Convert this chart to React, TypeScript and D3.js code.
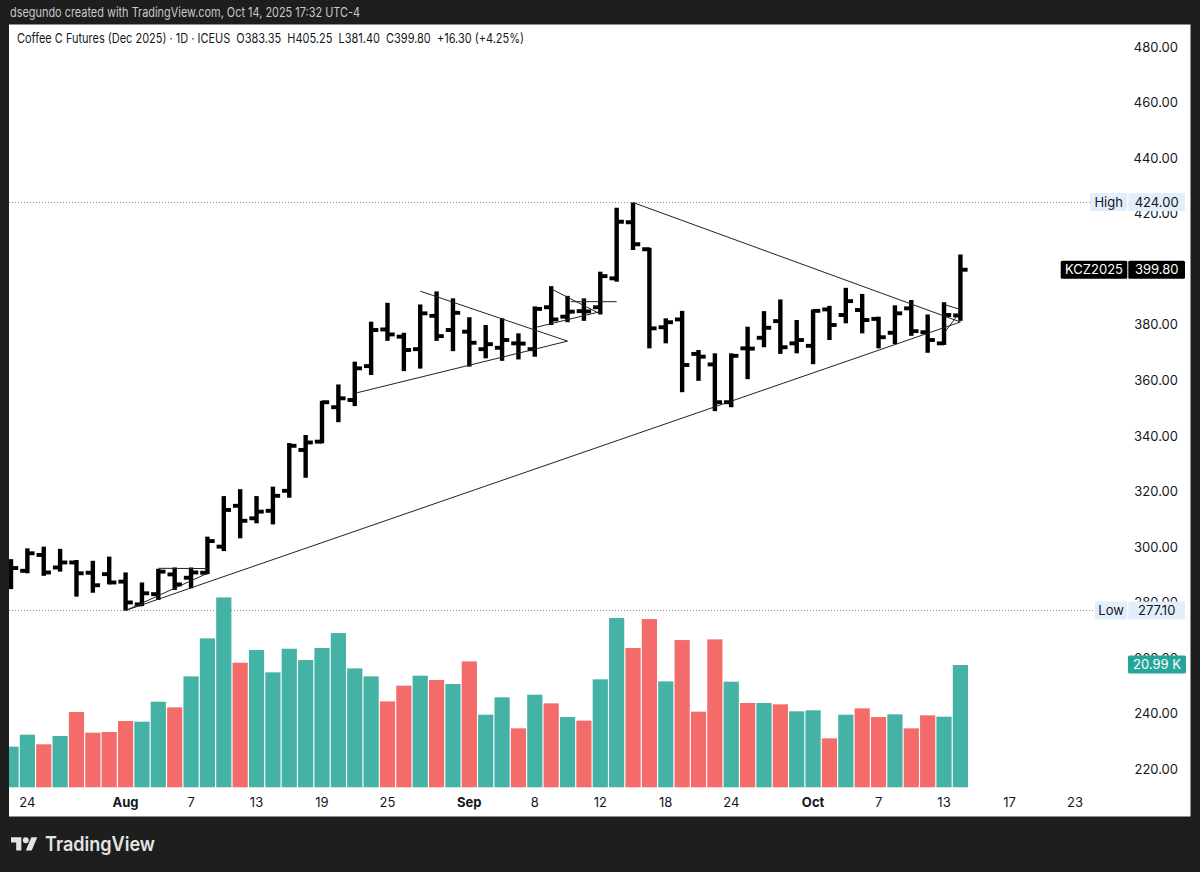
import React from "react";
import * as d3 from "d3";

const opens = [291.3,291.4,297.1,292.6,294.4,290.7,290.2,287.5,279.3,283,290.1,288.9,290.7,300.1,314.8,310.3,313,320.2,334.9,337.9,350.3,352.9,365.1,378.3,375.7,371.2,383.2,378.1,377.5,371.2,371.7,373.3,371.2,386.3,382.9,384.9,386.3,396.7,416.9,407.2,379.1,381.9,369.5,365.7,352.1,371.5,375.3,381.3,373.3,372.4,385.5,383.5,385.3,382.1,377.1,385.9,377.3,373.3,383.35];
const highs = [295.6,299.5,300.1,299.3,295.3,295,296.5,290.8,287.2,292.1,292.6,292.6,303.7,318.3,320.8,318.3,321.7,337.4,340.3,352.6,358.5,366.7,381.1,387.9,377.1,387.3,392,389.5,382.7,379.9,382.3,376.9,386.6,393.9,390.4,389.5,399.1,422.1,424,407.7,382.3,385,370.9,369.7,369.7,379.3,384.9,389.1,381.7,385.5,386.8,393.3,391.1,382.9,387,388.9,383.7,388.1,405.25];
const lows = [284.8,290.5,289.6,291.1,282.1,283.5,286.5,277.1,278.7,280.9,284.5,285.1,290.2,298.5,303.1,308.5,308.1,317.7,324.9,337.3,344.9,350.7,361.9,374.2,363.3,364.2,374.2,370.5,364.9,367.9,367,367.5,368.5,379.9,380.9,381.4,383.7,395.5,406.9,371.5,373.3,355.7,359.8,348.9,350.3,360.4,371.9,369.5,369.7,365.8,374.5,380.5,376.9,371.5,373,376,369.9,372.7,381.4];
const closes = [292.4,297.7,290.8,294.4,290.5,286.2,287.2,280,283.3,291.1,286.5,290.8,302.1,313.3,309.4,312.7,318.4,336.4,337.6,352.1,353.5,364.3,378.1,376.5,370.9,384.1,375.9,384.3,373.5,373,374.5,373.2,385.7,381.9,384.7,384.8,397.5,417.1,409,378.7,380.9,365.5,368.5,352.1,368.8,371.4,378.9,371.9,374.5,385,379.9,388.5,381.7,375.5,384.1,377.7,374.5,383.5,399.8];
const volumes = [6.98,9.03,7.38,8.8,12.92,9.38,9.49,11.38,11.26,14.69,13.72,19.04,25.56,32.59,21.38,23.56,19.73,23.78,21.84,23.9,26.47,20.41,19.04,14.75,17.44,19.15,18.41,17.72,21.61,12.46,15.44,10.12,15.89,14.41,12.06,11.44,18.53,29.05,23.9,28.87,18.18,25.27,12.98,25.39,18.12,14.47,14.47,14.24,13.04,13.21,8.4,12.46,13.55,12.06,12.52,10.12,12.35,12.12,20.99];
const volumeUp = [1,1,0,1,0,0,0,0,1,1,0,1,1,1,0,1,1,1,1,1,1,1,1,0,0,1,0,1,0,1,1,0,1,0,1,0,1,1,0,0,1,0,0,0,1,0,1,0,1,1,0,1,0,0,1,0,0,1,1];

const priceTicks = [480,460,440,420,400,380,360,340,320,300,280,260,240,220];
const timeTicks: [number, string, boolean][] = [[1,"24",false],[7,"Aug",true],[11,"7",false],[15,"13",false],[19,"19",false],[23,"25",false],[28,"Sep",true],[32,"8",false],[36,"12",false],[40,"18",false],[44,"24",false],[49,"Oct",true],[53,"7",false],[57,"13",false],[61,"17",false],[65,"23",false]];

// trend lines: [startIndex, startPrice, endIndex, endPrice]
const trendLines: [number, number, number, number][] = [
  [7,277.1,58,381],
  [38,424,58,381],
  [21,355.3,34,374.1],
  [25,392.1,34,374.1],
  [32.1,379.1,36,384.7],
  [33,392.9,36,383.9],
  [34.2,388.3,37,388.3],
  [7,277.1,12,290.5],
  [9,292.3,12,292.2],
  [57.1,387.1,58,385.5],
  [57,377,57.9,383.9],
];
const highPrice = 424;
const lowPrice = 277.1;
const lastPrice = 399.8;
const lastVolumeLabel = "20.99 K";

const FONT = "Inter, 'Noto Sans', sans-serif";
const TEAL = "#45b2a6";
const RED = "#f36c6a";
const plot = { left: 9, right: 1190.5, top: 24.5, bottom: 816.5 };

const x = d3.scaleLinear().domain([0, 58]).range([11, 960.4]);
const y = d3.scaleLinear().domain([480, 220]).range([47, 769.1]);
const v = d3.scaleLinear().domain([0, 20.99]).range([787.3, 665]);

function Badge({ x0, x1, yc, fill, color, text }: { x0: number; x1: number; yc: number; fill: string; color: string; text: string }) {
  return (
    <g>
      <rect x={x0} y={yc - 9} width={x1 - x0} height={18} rx={1.5} fill={fill} />
      <text x={(x0 + x1) / 2} y={yc + 4.7} textAnchor="middle" fontSize={13} fill={color} fontFamily={FONT}>{text}</text>
    </g>
  );
}

export default function App() {
  const stem = 4.4;
  const tick = 3.9;
  const ext = 7.2;
  return (
    <svg width={1200} height={872} style={{ position: "absolute", left: 0, top: 0, display: "block" }}>
      <defs>
        <clipPath id="plotClip"><rect x={plot.left} y={plot.top} width={plot.right - plot.left} height={plot.bottom - plot.top} /></clipPath>
      </defs>
      <rect width={1200} height={872} fill="#1e1e1e" />
      <text x={10} y={17} fontSize={13} fill="#c9c9c9" fontFamily={FONT} textLength={350} lengthAdjust="spacingAndGlyphs">dsegundo created with TradingView.com, Oct 14, 2025 17:32 UTC-4</text>
      <rect x={plot.left} y={plot.top} width={plot.right - plot.left} height={plot.bottom - plot.top} fill="#ffffff" />
      <text x={17} y={43} fontSize={13} fill="#131722" fontFamily={FONT} textLength={507} lengthAdjust="spacingAndGlyphs" xmlSpace="preserve">Coffee C Futures (Dec 2025) · 1D · ICEUS  O383.35  H405.25  L381.40  C399.80  +16.30 (+4.25%)</text>

      {priceTicks.map((p) => (
        <text key={p} x={1178} y={y(p) + 4.7} textAnchor="end" fontSize={13} fill="#131722" fontFamily={FONT}>{p.toFixed(2)}</text>
      ))}
      {timeTicks.map(([i, label, bold]) => (
        <text key={label + i} x={x(i)} y={807} textAnchor="middle" fontSize={13} fontWeight={bold ? 700 : 400} fill="#131722" fontFamily={FONT}>{label}</text>
      ))}

      <g clipPath="url(#plotClip)">
        {[highPrice, lowPrice].map((p) => (
          <line key={p} x1={plot.left} x2={p === highPrice ? 1090 : 1095} y1={y(p)} y2={y(p)} stroke="#8a8d94" strokeWidth={1} strokeDasharray="1 2" />
        ))}
        {volumes.map((val, i) => (
          <rect key={i} x={x(i) - 7.6} width={15.2} y={v(val)} height={v(0) - v(val)} fill={volumeUp[i] ? TEAL : RED} />
        ))}
        {opens.map((o, i) => {
          const cx = x(i);
          return (
            <g key={i} stroke="#000000" fill="none">
              <line x1={cx} x2={cx} y1={y(highs[i])} y2={y(lows[i])} strokeWidth={stem} />
              <line x1={cx - ext} x2={cx} y1={y(o)} y2={y(o)} strokeWidth={tick} />
              <line x1={cx} x2={cx + ext} y1={y(closes[i])} y2={y(closes[i])} strokeWidth={tick} />
            </g>
          );
        })}
        {trendLines.map(([a, pa, b, pb], i) => (
          <line key={i} x1={x(a)} y1={y(pa)} x2={x(b)} y2={y(pb)} stroke="#222222" strokeWidth={1} />
        ))}
      </g>

      <Badge x0={1090} x1={1127.3} yc={y(highPrice) - 0.5} fill="#e3eefb" color="#131722" text="High" />
      <Badge x0={1128.3} x1={1185} yc={y(highPrice) - 0.5} fill="#e3eefb" color="#131722" text={highPrice.toFixed(2)} />
      <Badge x0={1095} x1={1127.3} yc={y(lowPrice)} fill="#e3eefb" color="#131722" text="Low" />
      <Badge x0={1128.3} x1={1185} yc={y(lowPrice)} fill="#e3eefb" color="#131722" text={lowPrice.toFixed(2)} />
      <Badge x0={1060.7} x1={1127.3} yc={y(lastPrice)} fill="#000000" color="#ffffff" text="KCZ2025" />
      <Badge x0={1128.3} x1={1185} yc={y(lastPrice)} fill="#000000" color="#ffffff" text={lastPrice.toFixed(2)} />
      <Badge x0={1128} x1={1186} yc={664.5} fill="#26a69a" color="#ffffff" text={lastVolumeLabel} />

      <g transform="translate(11,834.3) scale(0.74)" fill="#e4e4e4">
        <path d="M14 22H7V11H0V4h14v18zM28 22h-8l7.5-18h8L28 22z" />
        <circle cx={20} cy={8} r={4} />
      </g>
      <text x={45} y={851} fontSize={20} fontWeight={600} fill="#e4e4e4" fontFamily={FONT} textLength={110} lengthAdjust="spacingAndGlyphs">TradingView</text>
    </svg>
  );
}
